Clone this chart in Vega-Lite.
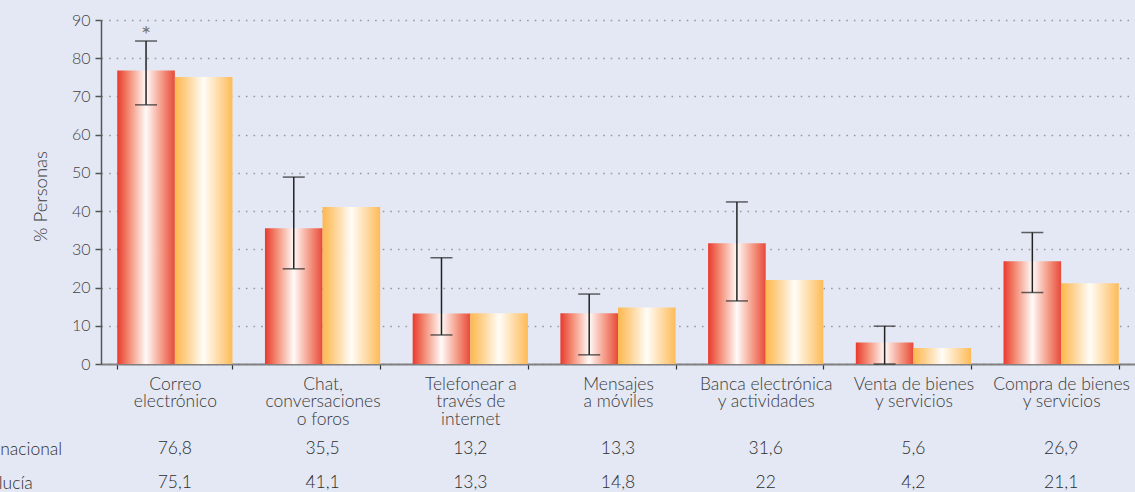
{
  "$schema": "https://vega.github.io/schema/vega-lite/v6.json",
  "width": 1034,
  "height": 344,
  "autosize": {"type": "none"},
  "padding": {"left": 101, "top": 20, "right": 0, "bottom": 128},
  "background": "#e3e8f4",
  "config": {
    "view": {"stroke": null},
    "font": "Lato",
    "locale": {"number": {"decimal": ",", "thousands": ".", "grouping": [3], "currency": ["", " €"]}}
  },
  "datasets": {
    "bars": [
      {"category": "Correo|electrónico", "series": "Total nacional", "value": 76.8},
      {"category": "Correo|electrónico", "series": "Andalucía", "value": 75.1},
      {"category": "Chat,|conversaciones|o foros", "series": "Total nacional", "value": 35.5},
      {"category": "Chat,|conversaciones|o foros", "series": "Andalucía", "value": 41.1},
      {"category": "Telefonear a|través de|internet", "series": "Total nacional", "value": 13.2},
      {"category": "Telefonear a|través de|internet", "series": "Andalucía", "value": 13.3},
      {"category": "Mensajes|a móviles", "series": "Total nacional", "value": 13.3},
      {"category": "Mensajes|a móviles", "series": "Andalucía", "value": 14.8},
      {"category": "Banca electrónica|y actividades", "series": "Total nacional", "value": 31.6},
      {"category": "Banca electrónica|y actividades", "series": "Andalucía", "value": 22},
      {"category": "Venta de bienes|y servicios", "series": "Total nacional", "value": 5.6},
      {"category": "Venta de bienes|y servicios", "series": "Andalucía", "value": 4.2},
      {"category": "Compra de bienes|y servicios", "series": "Total nacional", "value": 26.9},
      {"category": "Compra de bienes|y servicios", "series": "Andalucía", "value": 21.1}
    ],
    "errs": [
      {"category": "Correo|electrónico", "series": "Total nacional", "low": 67.8, "high": 84.5, "note": "*"},
      {"category": "Chat,|conversaciones|o foros", "series": "Total nacional", "low": 24.9, "high": 48.9, "note": ""},
      {"category": "Telefonear a|través de|internet", "series": "Total nacional", "low": 7.6, "high": 27.8, "note": ""},
      {"category": "Mensajes|a móviles", "series": "Total nacional", "low": 2.4, "high": 18.3, "note": ""},
      {"category": "Banca electrónica|y actividades", "series": "Total nacional", "low": 16.5, "high": 42.4, "note": ""},
      {"category": "Venta de bienes|y servicios", "series": "Total nacional", "low": 0, "high": 9.9, "note": ""},
      {"category": "Compra de bienes|y servicios", "series": "Total nacional", "low": 18.7, "high": 34.4, "note": ""}
    ]
  },
  "encoding": {
    "x": {
      "field": "category", "type": "nominal", "sort": null,
      "scale": {"paddingInner": 0.22, "paddingOuter": 0.11},
      "axis": {
        "title": null, "labelAngle": 0,
        "labelExpr": "split(datum.label, '|')",
        "labelFontSize": 17.5, "labelFontWeight": 300, "labelColor": "#3a3a3a", "labelLineHeight": 17.5,
        "labelPadding": 6, "labelBaseline": "top",
        "tickBand": "extent", "tickSize": 5, "tickColor": "#333", "tickWidth": 1.2,
        "domainColor": "#808080", "domainWidth": 2,
        "grid": false, "labelLimit": 220
      }
    }
  },
  "layer": [
    {
      "encoding": {
        "xOffset": {"field": "series", "type": "nominal", "scale": {"domain": ["Total nacional", "Andalucía"], "paddingInner": 0, "paddingOuter": 0}}
      },
      "layer": [
        {
          "data": {"name": "bars"},
          "transform": [{"filter": "datum.series === 'Total nacional'"}],
          "mark": {"type": "bar", "color": {"gradient": "linear", "x1": 0, "x2": 1, "y1": 0, "y2": 0,
            "stops": [
              {"offset": 0, "color": "#e9392d"},
              {"offset": 0.2, "color": "#f38a73"},
              {"offset": 0.5, "color": "#fffaf8"},
              {"offset": 0.8, "color": "#f3917c"},
              {"offset": 1, "color": "#e8493a"}
            ]}},
          "encoding": {
            "y": {"field": "value", "type": "quantitative",
              "scale": {"domain": [0, 90], "nice": false, "zero": true},
              "axis": {
                "title": "% Personas", "titleFontSize": 18.5, "titleFontWeight": 300, "titleColor": "#3a3a3a",
                "titleX": -61, "titleY": 176, "titleAngle": -90, "titleAlign": "center", "titleBaseline": "middle",
                "values": [0, 10, 20, 30, 40, 50, 60, 70, 80, 90],
                "labelFontSize": 16, "labelFontWeight": 300, "labelColor": "#444", "labelPadding": 5, "labelOverlap": false,
                "tickSize": 6, "tickColor": "#555", "tickWidth": 1.5,
                "domainColor": "#555", "domainWidth": 1.5,
                "grid": true, "gridColor": "#999999", "gridDash": [1.6, 6], "gridWidth": 1.6
              }
            }
          }
        },
        {
          "data": {"name": "bars"},
          "transform": [{"filter": "datum.series === 'Andalucía'"}],
          "mark": {"type": "bar", "color": {"gradient": "linear", "x1": 0, "x2": 1, "y1": 0, "y2": 0,
            "stops": [
              {"offset": 0, "color": "#fdb84e"},
              {"offset": 0.2, "color": "#fed08c"},
              {"offset": 0.5, "color": "#fffdf8"},
              {"offset": 0.8, "color": "#fed598"},
              {"offset": 1, "color": "#fdbb56"}
            ]}},
          "encoding": {
            "y": {"field": "value", "type": "quantitative",
              "axis": {
                "title": "% Personas", "titleFontSize": 18.5, "titleFontWeight": 300, "titleColor": "#3a3a3a",
                "titleX": -61, "titleY": 176, "titleAngle": -90, "titleAlign": "center", "titleBaseline": "middle",
                "values": [0, 10, 20, 30, 40, 50, 60, 70, 80, 90],
                "labelFontSize": 16, "labelFontWeight": 300, "labelColor": "#444", "labelPadding": 5, "labelOverlap": false,
                "tickSize": 6, "tickColor": "#555", "tickWidth": 1.5,
                "domainColor": "#555", "domainWidth": 1.5,
                "grid": true, "gridColor": "#999999", "gridDash": [1.6, 6], "gridWidth": 1.6
              }
            }
          }
        },
        {
          "data": {"name": "errs"},
          "mark": {"type": "rule", "color": "#222", "strokeWidth": 1.5},
          "encoding": {
            "y": {"field": "low", "type": "quantitative",
              "axis": {
                "title": "% Personas", "titleFontSize": 18.5, "titleFontWeight": 300, "titleColor": "#3a3a3a",
                "titleX": -61, "titleY": 176, "titleAngle": -90, "titleAlign": "center", "titleBaseline": "middle",
                "values": [0, 10, 20, 30, 40, 50, 60, 70, 80, 90],
                "labelFontSize": 16, "labelFontWeight": 300, "labelColor": "#444", "labelPadding": 5, "labelOverlap": false,
                "tickSize": 6, "tickColor": "#555", "tickWidth": 1.5,
                "domainColor": "#555", "domainWidth": 1.5,
                "grid": true, "gridColor": "#999999", "gridDash": [1.6, 6], "gridWidth": 1.6
              }
            },
            "y2": {"field": "high"}
          }
        },
        {
          "data": {"name": "errs"},
          "mark": {"type": "tick", "color": "#222", "size": 22, "thickness": 1.5},
          "encoding": {"y": {"field": "low", "type": "quantitative",
              "axis": {
                "title": "% Personas", "titleFontSize": 18.5, "titleFontWeight": 300, "titleColor": "#3a3a3a",
                "titleX": -61, "titleY": 176, "titleAngle": -90, "titleAlign": "center", "titleBaseline": "middle",
                "values": [0, 10, 20, 30, 40, 50, 60, 70, 80, 90],
                "labelFontSize": 16, "labelFontWeight": 300, "labelColor": "#444", "labelPadding": 5, "labelOverlap": false,
                "tickSize": 6, "tickColor": "#555", "tickWidth": 1.5,
                "domainColor": "#555", "domainWidth": 1.5,
                "grid": true, "gridColor": "#999999", "gridDash": [1.6, 6], "gridWidth": 1.6
              }}}
        },
        {
          "data": {"name": "errs"},
          "mark": {"type": "tick", "color": "#222", "size": 22, "thickness": 1.5},
          "encoding": {"y": {"field": "high", "type": "quantitative",
              "axis": {
                "title": "% Personas", "titleFontSize": 18.5, "titleFontWeight": 300, "titleColor": "#3a3a3a",
                "titleX": -61, "titleY": 176, "titleAngle": -90, "titleAlign": "center", "titleBaseline": "middle",
                "values": [0, 10, 20, 30, 40, 50, 60, 70, 80, 90],
                "labelFontSize": 16, "labelFontWeight": 300, "labelColor": "#444", "labelPadding": 5, "labelOverlap": false,
                "tickSize": 6, "tickColor": "#555", "tickWidth": 1.5,
                "domainColor": "#555", "domainWidth": 1.5,
                "grid": true, "gridColor": "#999999", "gridDash": [1.6, 6], "gridWidth": 1.6
              }}}
        },
        {
          "data": {"name": "errs"},
          "mark": {"type": "text", "color": "#777", "fontSize": 24, "baseline": "bottom", "dy": 7},
          "encoding": {
            "y": {"field": "high", "type": "quantitative",
              "axis": {
                "title": "% Personas", "titleFontSize": 18.5, "titleFontWeight": 300, "titleColor": "#3a3a3a",
                "titleX": -61, "titleY": 176, "titleAngle": -90, "titleAlign": "center", "titleBaseline": "middle",
                "values": [0, 10, 20, 30, 40, 50, 60, 70, 80, 90],
                "labelFontSize": 16, "labelFontWeight": 300, "labelColor": "#444", "labelPadding": 5, "labelOverlap": false,
                "tickSize": 6, "tickColor": "#555", "tickWidth": 1.5,
                "domainColor": "#555", "domainWidth": 1.5,
                "grid": true, "gridColor": "#999999", "gridDash": [1.6, 6], "gridWidth": 1.6
              }},
            "text": {"field": "note"}
          }
        }
      ]
    },
    {
      "data": {"name": "bars"},
      "mark": {"type": "text", "fontSize": 17.5, "fontWeight": 300, "color": "#2e2e2e", "baseline": "middle"},
      "encoding": {
        "y": {"field": "series", "type": "nominal", "sort": null,
          "scale": {"domain": ["Total nacional", "Andalucía"], "range": [412, 480], "paddingInner": 0, "paddingOuter": 0},
          "axis": {"orient": "left", "title": null, "domain": false, "ticks": false, "tickSize": 0, "grid": false,
            "labelAlign": "left", "labelPadding": 142, "labelFontSize": 17.5, "labelFontWeight": 300, "labelColor": "#2e2e2e", "offset": 0}
        },
        "text": {"field": "value", "type": "quantitative", "format": "~g"}
      }
    }
  ],
  "resolve": {"scale": {"y": "independent"}, "axis": {"y": "independent"}}
}
